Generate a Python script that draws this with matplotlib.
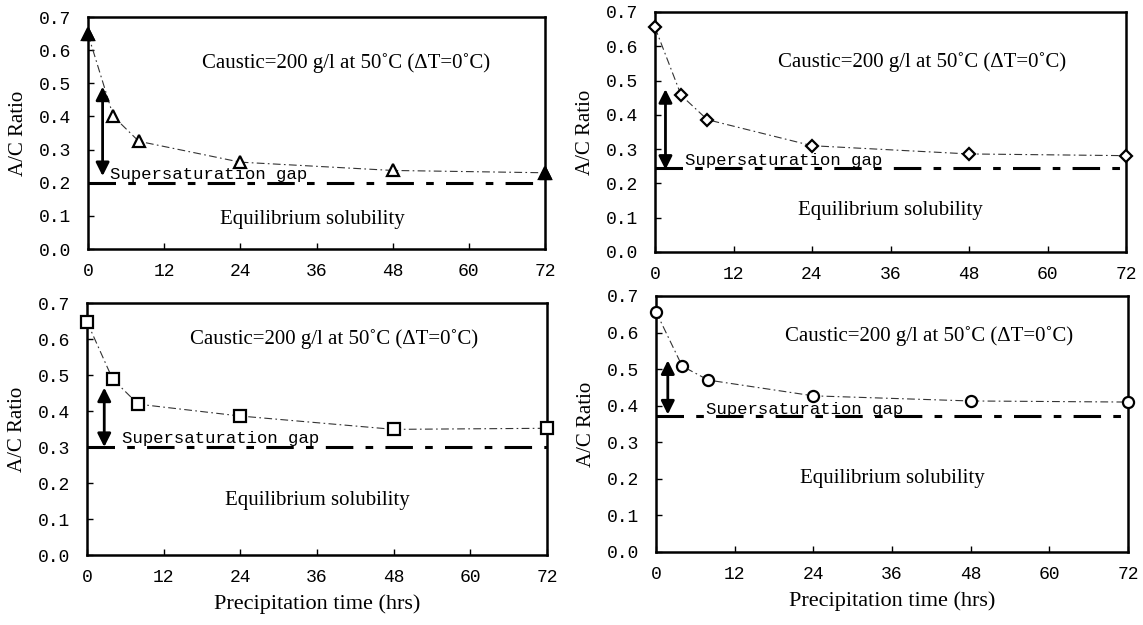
import matplotlib
matplotlib.use("Agg")
from matplotlib import pyplot as plt

# data
hours = [0, 4, 8, 24, 48, 72]
ratio_tl = [0.648, 0.40, 0.325, 0.262, 0.237, 0.23]
ratio_tr = [0.655, 0.457, 0.386, 0.31, 0.286, 0.281]
ratio_bl = [0.648, 0.489, 0.419, 0.386, 0.349, 0.352]
ratio_br = [0.657, 0.508, 0.47, 0.427, 0.413, 0.41]
equilibrium = [0.20, 0.245, 0.30, 0.371]
gap_arrow_x = [2.3, 1.6, 2.7, 1.8]
gap_arrow_y = [(0.22, 0.49), (0.24, 0.475), (0.30, 0.465), (0.376, 0.524)]
markers = ["^", "D", "s", "o"]
x_ticks = [0, 12, 24, 36, 48, 60, 72]
y_ticks = [0.0, 0.1, 0.2, 0.3, 0.4, 0.5, 0.6, 0.7]

caption = "Caustic=200 g/l at 50\u02daC (\u0394T=0\u02daC)"
caption_pos = [(40.6, 0.56), (40.9, 0.555), (38.6, 0.60), (41.7, 0.59)]
gap_pos = [(3.5, 0.224), (4.6, 0.267), (5.4, 0.324), (7.6, 0.391)]
eq_pos = [(35.3, 0.09), (36.0, 0.12), (36.0, 0.152), (36.0, 0.20)]

serif = "Liberation Serif"
mono = "Liberation Mono"

fig = plt.figure(figsize=(11.43, 6.25), dpi=100)
boxes = [
    [88 / 1143, 1 - 249 / 625, 457 / 1143, 232 / 625],
    [655 / 1143, 1 - 252 / 625, 471 / 1143, 240 / 625],
    [87 / 1143, 1 - 555 / 625, 460 / 1143, 252 / 625],
    [656 / 1143, 1 - 552 / 625, 472 / 1143, 256 / 625],
]
series = [ratio_tl, ratio_tr, ratio_bl, ratio_br]

for i in range(4):
    ax = fig.add_axes(boxes[i])
    y = series[i]

    # trend line (thin dash-dot) and markers
    ax.plot(hours, y, color="#333333", lw=0.8, dashes=(7, 3, 1.5, 3),
            clip_on=False, zorder=2)
    ms = 8 if markers[i] != "D" else 6
    ax.plot(hours, y, linestyle="none", marker=markers[i], ms=ms,
            mfc="white", mec="black", mew=1.6, clip_on=False, zorder=3)
    if i == 0:
        ax.plot([hours[0], hours[-1]], [y[0], y[-1]], linestyle="none",
                marker="^", ms=8, mfc="black", mec="black", clip_on=False, zorder=4)

    # equilibrium solubility line
    ax.plot([0, 72], [equilibrium[i], equilibrium[i]], color="black", lw=2.2,
            dashes=(9, 4, 2.5, 4), zorder=2)

    # supersaturation gap arrow
    ax.annotate("", xy=(gap_arrow_x[i], gap_arrow_y[i][0]),
                xytext=(gap_arrow_x[i], gap_arrow_y[i][1]),
                arrowprops=dict(arrowstyle="<|-|>", color="black", lw=2.0,
                                mutation_scale=20, shrinkA=0, shrinkB=0))

    ax.text(caption_pos[i][0], caption_pos[i][1], caption, family=serif,
            fontsize=15, ha="center", va="center")
    ax.text(gap_pos[i][0], gap_pos[i][1], "Supersaturation gap", family=mono,
            fontsize=12.5, ha="left", va="center")
    ax.text(eq_pos[i][0], eq_pos[i][1], "Equilibrium solubility", family=serif,
            fontsize=15, ha="center", va="center")

    ax.set_xlim(0, 72)
    ax.set_ylim(0, 0.7)
    ax.set_xticks(x_ticks)
    ax.set_yticks(y_ticks)
    ax.set_xticklabels([str(t) for t in x_ticks], family=mono, fontsize=13)
    ax.set_yticklabels(["%.1f" % t for t in y_ticks], family=mono, fontsize=13)
    ax.tick_params(direction="in", length=4, width=1)
    ax.tick_params(axis="x", pad=10)
    ax.tick_params(axis="y", pad=12)
    for s in ax.spines.values():
        s.set_linewidth(1.8)
    ax.set_ylabel("A/C Ratio", family=serif, fontsize=15, labelpad=8)
    if i >= 2:
        ax.set_xlabel("Precipitation time (hrs)", family=serif, fontsize=16,
                      labelpad=6)

fig.savefig("out.png", dpi=100)
